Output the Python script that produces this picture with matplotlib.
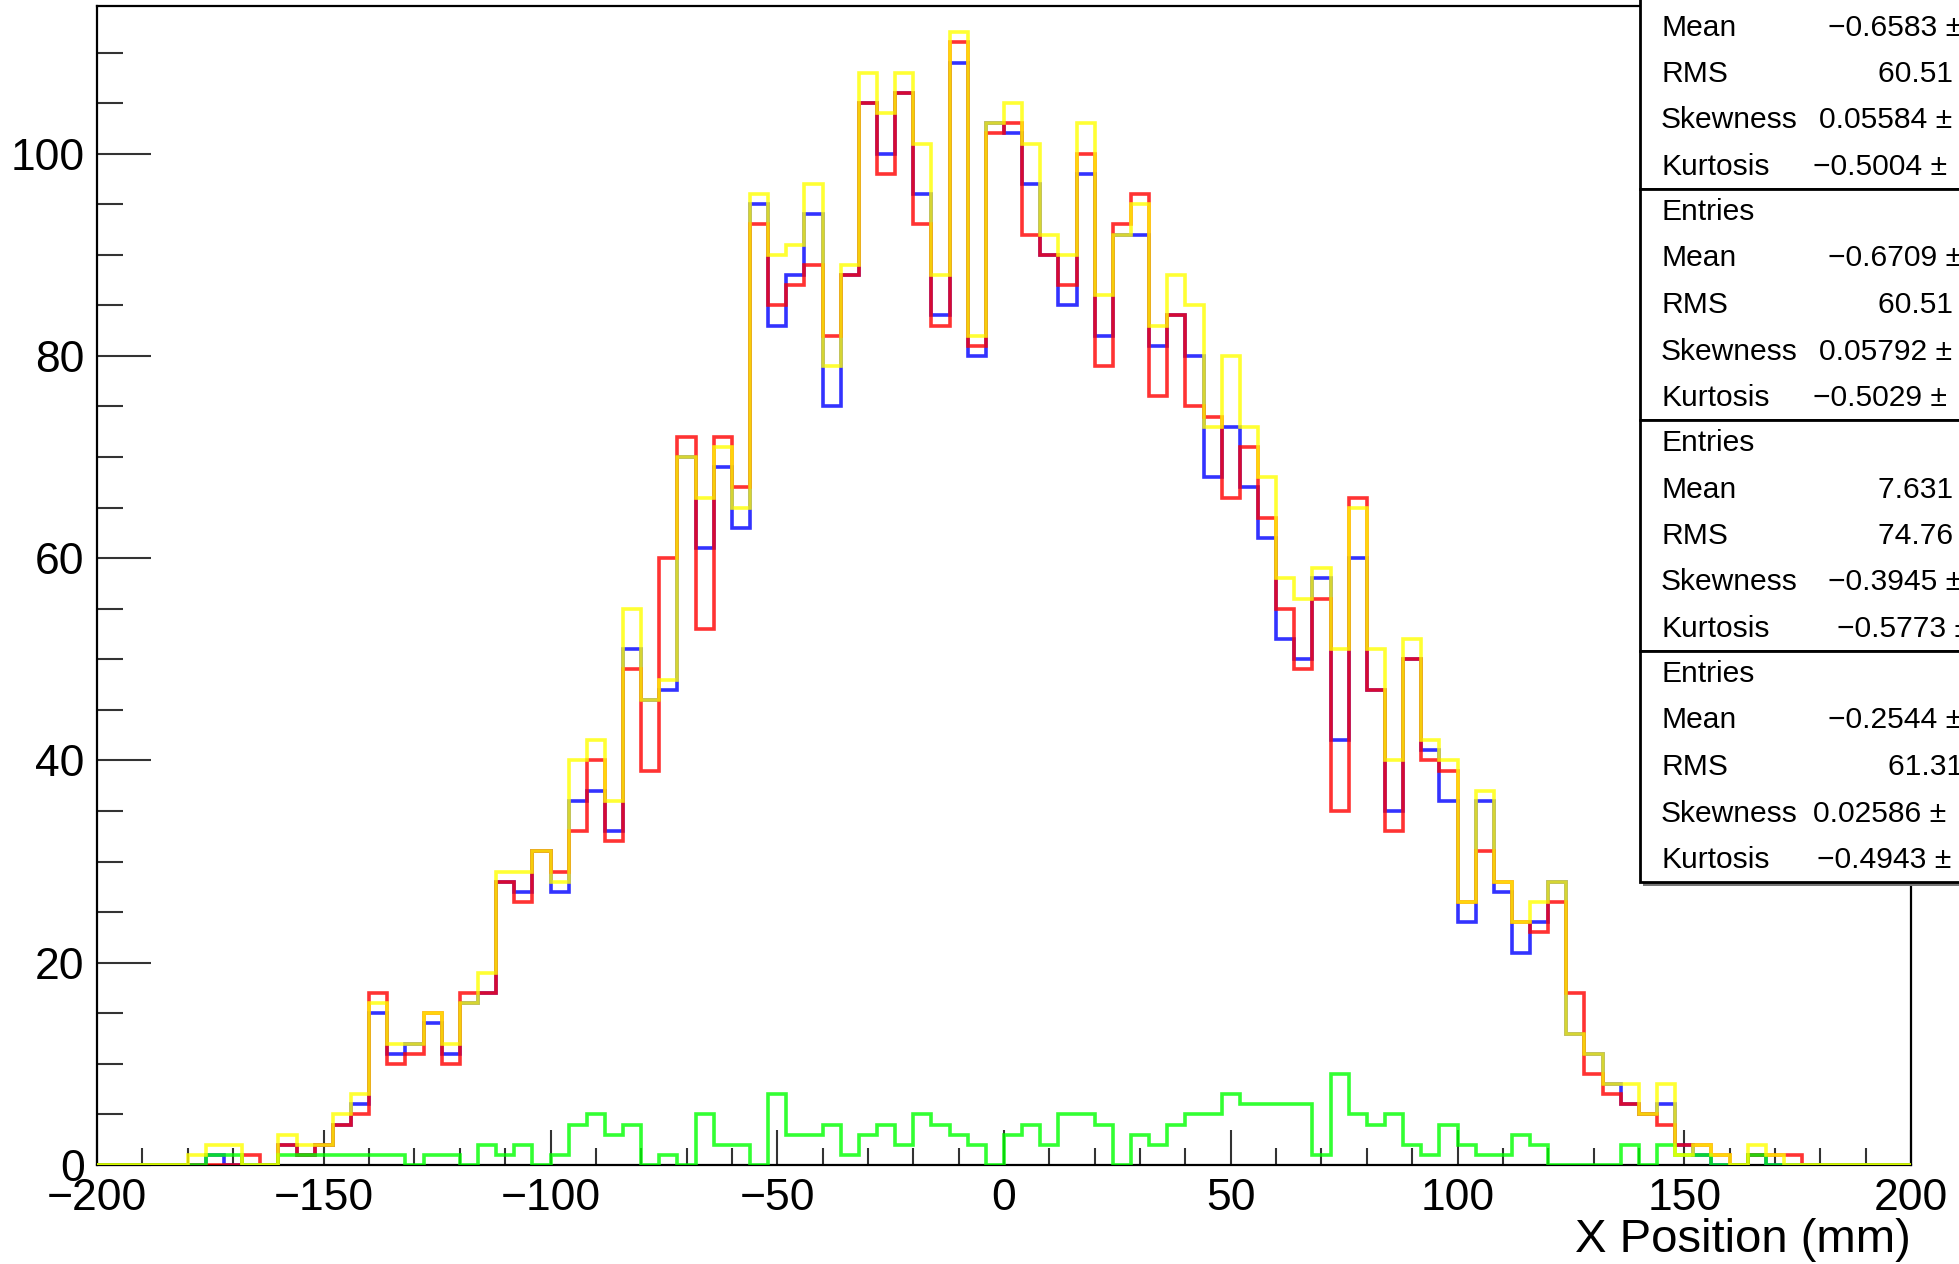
import numpy as np
import matplotlib
matplotlib.use('Agg')
import matplotlib.pyplot as plt
from matplotlib.patches import Rectangle
from matplotlib.ticker import MultipleLocator

plt.rcParams['font.family'] = ['Liberation Sans', 'DejaVu Sans']

# 4 mm bins from -200 to 200
edges = np.arange(-200, 201, 4)

blue = [0, 0, 0, 0, 0, 0, 1, 0, 0, 0,
        2, 1, 2, 4, 6, 15, 11, 12, 14, 11,
        16, 17, 28, 27, 31, 27, 36, 37, 33, 51,
        46, 47, 70, 61, 69, 63, 95, 83, 88, 94,
        75, 88, 105, 100, 106, 96, 84, 109, 80, 103,
        102, 97, 90, 85, 98, 82, 92, 92, 81, 84,
        80, 68, 73, 67, 62, 52, 50, 58, 42, 60,
        47, 35, 50, 41, 36, 24, 36, 27, 21, 24,
        28, 13, 11, 8, 6, 5, 6, 2, 1, 0,
        0, 1, 0, 0, 0, 0, 0, 0, 0, 0]

red = [0, 0, 0, 0, 0, 0, 0, 0, 1, 0,
       2, 1, 2, 4, 5, 17, 10, 11, 15, 10,
       17, 17, 28, 26, 31, 29, 33, 40, 32, 49,
       39, 60, 72, 53, 72, 67, 93, 85, 87, 89,
       82, 88, 105, 98, 106, 93, 83, 111, 81, 102,
       103, 92, 90, 87, 100, 79, 93, 96, 76, 84,
       75, 74, 66, 71, 64, 55, 49, 56, 35, 66,
       47, 33, 50, 40, 39, 26, 31, 28, 24, 23,
       26, 17, 9, 7, 6, 5, 4, 2, 2, 1,
       0, 1, 1, 1, 0, 0, 0, 0, 0, 0]

green = [0, 0, 0, 0, 0, 0, 1, 1, 0, 0,
         1, 1, 1, 1, 1, 1, 1, 0, 1, 1,
         0, 2, 1, 2, 0, 1, 4, 5, 3, 4,
         0, 1, 0, 5, 2, 2, 0, 7, 3, 3,
         4, 1, 3, 4, 2, 5, 4, 3, 2, 0,
         3, 4, 2, 5, 5, 4, 0, 3, 2, 4,
         5, 5, 7, 6, 6, 6, 6, 1, 9, 5,
         4, 5, 2, 1, 4, 2, 1, 1, 3, 2,
         0, 0, 0, 0, 2, 0, 2, 1, 1, 0,
         0, 1, 0, 0, 0, 0, 0, 0, 0, 0]

yellow = [0, 0, 0, 0, 0, 1, 2, 2, 0, 0,
          3, 2, 2, 5, 7, 16, 12, 12, 15, 12,
          16, 19, 29, 29, 31, 28, 40, 42, 36, 55,
          46, 48, 70, 66, 71, 65, 96, 90, 91, 97,
          79, 89, 108, 104, 108, 101, 88, 112, 82, 103,
          105, 101, 92, 90, 103, 86, 92, 95, 83, 88,
          85, 73, 80, 73, 68, 58, 56, 59, 51, 65,
          51, 40, 52, 42, 40, 26, 37, 28, 24, 26,
          28, 13, 11, 8, 8, 5, 8, 1, 2, 1,
          0, 2, 1, 0, 0, 0, 0, 0, 0, 0]

# stats boxes (right side, partly outside the canvas)
stat_labels = ['Entries', 'Mean', 'RMS', 'Skewness', 'Kurtosis']
stats_blue = ['', '\u22120.6583 \u00b1', '60.51 \u00b1', '0.05584 \u00b1', '\u22120.5004 \u00b1']
stats_red = ['', '\u22120.6709 \u00b1', '60.51 \u00b1', '0.05792 \u00b1', '\u22120.5029 \u00b1']
stats_green = ['', '7.631 \u00b1', '74.76 \u00b1', '\u22120.3945 \u00b1', '\u22120.5773 \u00b1']
stats_yellow = ['', '\u22120.2544 \u00b1', '61.31 \u00b1', '0.02586 \u00b1', '\u22120.4943 \u00b1']

W, H = 1959, 1264
fig = plt.figure(figsize=(W / 100, H / 100), dpi=100)
ax = fig.add_axes([97 / W, 99 / H, 1814 / W, 1159 / H])

for vals, col in [(blue, '#0000ff'), (red, '#ff0000'),
                  (green, '#00ff00'), (yellow, '#ffff00')]:
    ax.stairs(vals, edges, color=col, lw=2.6, alpha=0.8, zorder=3)

ax.set_xlim(-200, 200)
ax.set_ylim(0, 114.6)
ax.xaxis.set_major_locator(MultipleLocator(50))
ax.xaxis.set_minor_locator(MultipleLocator(10))
ax.yaxis.set_major_locator(MultipleLocator(20))
ax.yaxis.set_minor_locator(MultipleLocator(5))
ax.tick_params(which='both', direction='in', top=False, right=False,
               width=1.5, color='#333333', labelsize=32, pad=9)
ax.tick_params(axis='y', which='major', length=39)
ax.tick_params(axis='y', which='minor', length=19)
ax.tick_params(axis='x', which='major', length=25)
ax.tick_params(axis='x', which='minor', length=12)
for s in ax.spines.values():
    s.set_linewidth(1.6)

ax.set_xlabel('X Position (mm)', fontsize=34, loc='right', va='center')
ax.xaxis.set_label_coords(1.0, -75 / 1159)

# stat boxes
box_h = 231
for b, vals in enumerate([stats_blue, stats_red, stats_green, stats_yellow]):
    top = -42 + box_h * b
    shadow = Rectangle((1643 / W, 1 - (top + box_h + 4) / H), 600 / W, box_h / H,
                       transform=fig.transFigure, facecolor='#777777',
                       edgecolor='none', zorder=9)
    box = Rectangle((1640 / W, 1 - (top + box_h) / H), 600 / W, box_h / H,
                    transform=fig.transFigure, facecolor='white',
                    edgecolor='black', lw=2, zorder=10)
    fig.add_artist(shadow)
    fig.add_artist(box)
    for k, lab in enumerate(stat_labels):
        yc = top + 23 + 46.5 * k
        fig.text(1661 / W, 1 - yc / H, lab, fontsize=21.6, va='center',
                 ha='left', zorder=11)

# value text start positions
val_x = [[0, 1828, 1878, 1819, 1813],
         [0, 1828, 1878, 1819, 1813],
         [0, 1878, 1878, 1828, 1837],
         [0, 1828, 1888, 1813, 1817]]
for b, vals in enumerate([stats_blue, stats_red, stats_green, stats_yellow]):
    top = -42 + box_h * b
    for k, v in enumerate(vals):
        if not v:
            continue
        yc = top + 23 + 46.5 * k
        fig.text(val_x[b][k] / W, 1 - yc / H, v, fontsize=21.6, va='center',
                 ha='left', zorder=11)

fig.savefig('out.png', dpi=100)
